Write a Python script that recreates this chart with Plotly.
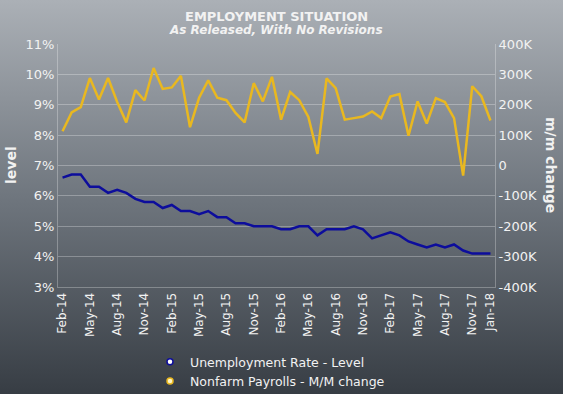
import plotly.graph_objects as go
import urllib.parse

months = ["Feb-14","Mar-14","Apr-14","May-14","Jun-14","Jul-14","Aug-14","Sep-14","Oct-14","Nov-14","Dec-14",
          "Jan-15","Feb-15","Mar-15","Apr-15","May-15","Jun-15","Jul-15","Aug-15","Sep-15","Oct-15","Nov-15","Dec-15",
          "Jan-16","Feb-16","Mar-16","Apr-16","May-16","Jun-16","Jul-16","Aug-16","Sep-16","Oct-16","Nov-16","Dec-16",
          "Jan-17","Feb-17","Mar-17","Apr-17","May-17","Jun-17","Jul-17","Aug-17","Sep-17","Oct-17","Nov-17","Dec-17",
          "Jan-18"]

unemployment = [6.6,6.7,6.7,6.3,6.3,6.1,6.2,6.1,5.9,5.8,5.8,5.6,5.7,5.5,5.5,5.4,5.5,5.3,5.3,5.1,5.1,5.0,5.0,5.0,
                4.9,4.9,5.0,5.0,4.7,4.9,4.9,4.9,5.0,4.9,4.6,4.7,4.8,4.7,4.5,4.4,4.3,4.4,4.3,4.4,4.2,4.1,4.1,4.1]

payrolls = [113,175,192,288,217,288,209,142,248,214,321,252,257,295,126,223,280,223,215,173,142,271,211,292,
            151,242,215,160,38,287,255,151,156,161,178,156,227,235,98,211,138,222,209,156,-33,261,228,148]
payrolls_k = [v * 1000 for v in payrolls]

tick_labels = ["Feb-14","May-14","Aug-14","Nov-14","Feb-15","May-15","Aug-15","Nov-15","Feb-16","May-16",
               "Aug-16","Nov-16","Feb-17","May-17","Aug-17","Nov-17","Jan-18"]

left_ticks = [3, 4, 5, 6, 7, 8, 9, 10, 11]
right_ticks = [-400000, -300000, -200000, -100000, 0, 100000, 200000, 300000, 400000]
right_labels = ["-400K", "-300K", "-200K", "-100K", "0", "100K", "200K", "300K", "400K"]

W, H = 563, 394
ML, MR, MT, MB = 58, 68, 44, 107
PW, PH = W - ML - MR, H - MT - MB

BLUE = "#0d0d9c"
GOLD = "#e9b820"
TXT = "#f2f2f2"
FONT = "Verdana, DejaVu Sans, sans-serif"


def px(xp):
    return (xp - ML) / PW


def py(yp):
    return 1 - (yp - MT) / PH


svg = ('<svg xmlns="http://www.w3.org/2000/svg" width="563" height="394" preserveAspectRatio="none">'
       '<defs><linearGradient id="g" x1="0" y1="0" x2="0" y2="1">'
       '<stop offset="0" stop-color="#abb0b6"/><stop offset="0.5" stop-color="#6f767e"/>'
       '<stop offset="1" stop-color="#373d44"/></linearGradient></defs>'
       '<rect width="563" height="394" fill="url(#g)"/></svg>')
bg_src = "data:image/svg+xml;charset=utf-8," + urllib.parse.quote(svg)

fig = go.Figure()
fig.add_trace(go.Scatter(x=months, y=payrolls_k, yaxis="y2", mode="lines",
                         line=dict(color=GOLD, width=2.5), showlegend=False, hoverinfo="skip"))
fig.add_trace(go.Scatter(x=months, y=unemployment, mode="lines",
                         line=dict(color=BLUE, width=2.5), showlegend=False, hoverinfo="skip"))
# legend entries
fig.add_trace(go.Scatter(x=[None], y=[None], mode="markers", name="Unemployment Rate - Level",
                         marker=dict(symbol="circle", size=6, color="#ffffff", line=dict(color=BLUE, width=1.5))))
fig.add_trace(go.Scatter(x=[None], y=[None], mode="markers", name="Nonfarm Payrolls - M/M change",
                         marker=dict(symbol="circle", size=6, color="#fff6c8", line=dict(color=GOLD, width=1.5))))

grid = "rgba(255,255,255,0.28)"
fig.update_layout(
    width=W, height=H,
    margin=dict(l=ML, r=MR, t=MT, b=MB, autoexpand=False),
    paper_bgcolor="#6f767e",
    plot_bgcolor="rgba(0,0,0,0)",
    font=dict(family=FONT, color=TXT, size=13),
    images=[dict(source=bg_src, xref="paper", yref="paper",
                 x=-ML / PW, y=1 + MT / PH, sizex=W / PW, sizey=H / PH,
                 xanchor="left", yanchor="top", sizing="stretch", layer="below")],
    xaxis=dict(type="category", categoryorder="array", categoryarray=months,
               range=[-0.5, len(months) - 0.5],
               tickmode="array", tickvals=tick_labels, ticktext=tick_labels,
               tickangle=-90, tickfont=dict(size=12, color=TXT, family=FONT),
               showgrid=False, showline=True, linecolor=grid, linewidth=1,
               mirror=False, ticks="", zeroline=False),
    yaxis=dict(range=[3, 11], tickvals=left_ticks, ticktext=[f"{v}%" for v in left_ticks],
               tickfont=dict(size=13, color=TXT, family=FONT),
               showgrid=True, gridcolor=grid, gridwidth=1,
               showline=True, linecolor=grid, linewidth=1, zeroline=False, ticks=""),
    yaxis2=dict(range=[-400000, 400000], overlaying="y", side="right",
                tickvals=right_ticks, ticktext=right_labels,
                tickfont=dict(size=13, color=TXT, family=FONT),
                showgrid=False, showline=True, linecolor=grid, linewidth=1, zeroline=False, ticks=""),
    legend=dict(x=px(150), y=py(347), xanchor="left", yanchor="top",
                bgcolor="rgba(0,0,0,0)", font=dict(size=12.5, color=TXT, family=FONT),
                tracegroupgap=0, itemwidth=30),
    annotations=[
        dict(text="<b>EMPLOYMENT SITUATION</b>", xref="paper", yref="paper",
             x=px(276), y=py(16), xanchor="center", yanchor="middle",
             showarrow=False, font=dict(size=13, color=TXT, family=FONT)),
        dict(text="<b><i>As Released, With No Revisions</i></b>", xref="paper", yref="paper",
             x=px(276), y=py(30), xanchor="center", yanchor="middle",
             showarrow=False, font=dict(size=12, color=TXT, family=FONT)),
        dict(text="<b>level</b>", xref="paper", yref="paper", textangle=-90,
             x=px(11), y=py(165), xanchor="center", yanchor="middle",
             showarrow=False, font=dict(size=14, color=TXT, family=FONT)),
        dict(text="<b>m/m change</b>", xref="paper", yref="paper", textangle=90,
             x=px(551), y=py(165), xanchor="center", yanchor="middle",
             showarrow=False, font=dict(size=14, color=TXT, family=FONT)),
    ],
)

fig.write_html("out.html", config={"displayModeBar": False},
               post_script="document.body.style.margin='0';document.body.style.overflow='hidden';")
